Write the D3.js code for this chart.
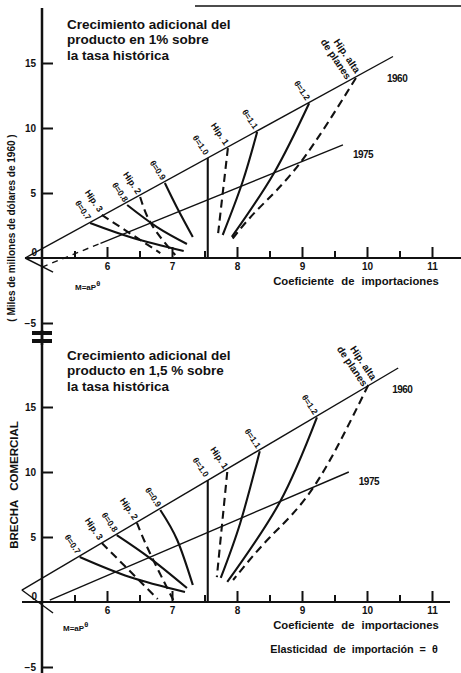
<!DOCTYPE html>
<html>
<head>
<meta charset="utf-8">
<script src="https://cdn.jsdelivr.net/npm/d3@7"></script>
<style>
body{margin:0;background:#fff}
svg text{font-family:"Liberation Sans",Arial,sans-serif;font-weight:bold;fill:#111}
</style>
</head>
<body>
<div class="chart"></div>
<script>
const width = 461, height = 673

// ticks
const xTicks = [6,7,8,9,10,11]
const xMinor = [5.5,6.5,7.5,8.5,9.5,10.5]
const yTicks = [-5,5,10,15]

const thetaNames = ["θ=0.7","θ=0.8","θ=0.9","θ=1.0","θ=1.1","θ=1.2"]
const hipNames = [["Hip. 3"],["Hip. 2"],["Hip. 1"],["Hip. alta","de planes"]]

// panel superior (1%)
const topTitle = ["Crecimiento adicional del","producto en 1% sobre","la tasa histórica"]
const topTheta = [
  [[5.74,2.69],[6.40,1.54],[7.18,0.54]],
  [[6.31,4.08],[6.77,2.38],[7.23,1.08]],
  [[6.89,5.77],[7.08,3.85],[7.32,1.62]],
  [[7.55,7.7],[7.55,0]],
  [[8.31,9.69],[8.08,5.77],[7.78,1.77]],
  [[9.11,11.9],[8.57,6.54],[7.92,1.62]]
]
const topHip = [
  [[5.92,3.31],[6.82,0.38]],
  [[6.51,4.69],[6.69,2.54],[7.05,0.23]],
  [[7.86,8.46],[7.71,1.92]],
  [[9.83,13.85],[8.97,7.31],[8.31,3.69],[7.89,1.23]]
]
const top1960 = [[4.74,0],[10.4,15.5]]
const top1975 = [[5.9,1.13],[9.63,8.7]]
const top1975dash = [[5.0,-0.7],[5.9,1.13]]
const topArm = [[4.74,0],[5.17,-1.08]]

// panel inferior (1,5%)
const botTitle = ["Crecimiento adicional del","producto en 1,5 % sobre","la tasa histórica"]
const botTheta = [
  [[5.58,3.46],[6.35,1.92],[7.2,0.77]],
  [[6.15,5.15],[6.66,3.38],[7.23,1.08]],
  [[6.82,7.08],[7.08,4.77],[7.32,1.31]],
  [[7.55,9.38],[7.55,0]],
  [[8.35,11.6],[8.05,6.08],[7.75,1.85]],
  [[9.23,14.2],[8.66,7.69],[7.85,1.54]]
]
const botHip = [
  [[5.92,4.54],[6.78,0.23]],
  [[6.46,6.08],[6.66,3.77],[7.02,0.15]],
  [[7.85,10.0],[7.69,1.92]],
  [[10.02,16.69],[9.2,9.0],[8.51,5.0],[7.94,1.69]]
]
const bot1960 = [[4.69,0.92],[10.48,18.0]]
const bot1975 = [[5.12,0.15],[9.72,10.0]]
const botArm = [[4.69,0.92],[5.17,-0.85]]

const svg = d3.select('.chart').append('svg')
    .attr('width', width)
    .attr('height', height)

const x = d3.scaleLinear().domain([5, 11]).range([42, 432])

// borde de la pagina escaneada
svg.append('line').attr('x1',195).attr('x2',461).attr('y1',6).attr('y2',6)
    .attr('stroke','#111').attr('stroke-width',1.5)

function panel(p){
    const y = d3.scaleLinear().domain([-5, 15]).range([p.y0 + 65, p.y0 - 195])
    const line = d3.line().x(d=>x(d[0])).y(d=>y(d[1])).curve(d3.curveNatural)
    const g = svg.append('g')

    // eje y
    g.append('line').attr('x1',42).attr('x2',42)
        .attr('y1',p.yTop).attr('y2',p.yBot)
        .attr('stroke','#111').attr('stroke-width',2.5)
    const yAxis = d3.axisLeft(y).tickValues(yTicks).tickSize(-11).tickPadding(6).tickFormat(d3.format('d'))
    const ya = g.append('g').attr('transform','translate(42,0)').call(yAxis)
    ya.select('.domain').remove()
    ya.selectAll('line').attr('stroke','#111').attr('stroke-width',2)
    ya.selectAll('text').style('font-size','10px').attr('fill','#111')
    g.append('text').attr('x',37).attr('y',y(0)-6).attr('dy','0.35em')
        .attr('text-anchor','end').style('font-size','10px').text('0')

    // eje x
    g.append('line').attr('x1',p.xLeft).attr('x2',p.xRight)
        .attr('y1',y(0)).attr('y2',y(0))
        .attr('stroke','#111').attr('stroke-width',2)
    const xa = g.append('g').attr('transform',`translate(0,${y(0)})`)
        .call(d3.axisBottom(x).tickValues(xTicks).tickSize(-11).tickPadding(5).tickFormat(d3.format('d')))
    xa.select('.domain').remove()
    xa.selectAll('line').attr('stroke','#111').attr('stroke-width',2)
    xa.selectAll('text').style('font-size','10px').attr('fill','#111')
    const xm = g.append('g').attr('transform',`translate(0,${y(0)})`)
        .call(d3.axisBottom(x).tickValues(xMinor).tickSize(-7).tickFormat(''))
    xm.select('.domain').remove()
    xm.selectAll('line').attr('stroke','#111').attr('stroke-width',2)

    // rectas 1960 y 1975
    const thin = (data, dash) => g.append('path').datum(data).attr('d', line)
        .attr('fill','none').attr('stroke','#111').attr('stroke-width',1.4)
        .attr('stroke-dasharray', dash || null)
    thin(p.l1960); thin(p.l1975); thin(p.arm)
    if (p.l1975dash) thin(p.l1975dash, '6,5')

    g.append('text').attr('x', x(p.l1960[1][0]) - 6).attr('y', y(p.l1960[1][1]) + 25)
        .style('font-size','10px').style('letter-spacing','-0.5px').text('1960')
    g.append('text').attr('x', x(p.l1975[1][0]) + 10).attr('y', y(p.l1975[1][1]) + 13)
        .style('font-size','10px').style('letter-spacing','-0.5px').text('1975')

    // curvas de elasticidad
    g.selectAll('.theta').data(p.theta).enter().append('path')
        .attr('d', line).attr('fill','none').attr('stroke','#111').attr('stroke-width',2.1)
    g.selectAll('.hip').data(p.hip).enter().append('path')
        .attr('d', line).attr('fill','none').attr('stroke','#111').attr('stroke-width',2.1)
        .attr('stroke-dasharray','8,5')

    // etiquetas giradas
    p.theta.forEach((c,i)=>{
        g.append('text')
            .attr('transform',`translate(${x(c[0][0])-1},${y(c[0][1])-4}) rotate(56)`)
            .attr('text-anchor','end').attr('dy','0.35em')
            .style('font-size','8.5px').text(thetaNames[i])
    })
    p.hip.forEach((c,i)=>{
        const big = hipNames[i].length > 1
        const t = g.append('text')
            .attr('transform',`translate(${x(c[0][0]) + (big ? p.altaDx : -1)},${y(c[0][1]) - (big ? 6 : 4)}) rotate(56)`)
            .attr('text-anchor','end')
            .style('font-size', big ? '10px' : '9px')
        hipNames[i].forEach((s,j)=>{
            t.append('tspan').attr('x',0).attr('dy', j ? '1.1em' : '0.35em').text(s)
        })
    })

    // titulo
    const tt = g.append('text').attr('x',67).attr('y',p.titleY).style('font-size','13.5px')
    p.title.forEach((s,j)=>{
        tt.append('tspan').attr('x',67).attr('dy', j ? '1.13em' : 0).text(s)
    })

    // M = aP^θ
    const m = g.append('text').attr('x',p.mx).attr('y',y(0)+p.my).style('font-size','8px')
    m.append('tspan').text('M=aP')
    m.append('tspan').attr('dy',-4).style('font-size','7.5px').text('θ')

    g.append('text').attr('x',356).attr('y',y(0)+27).attr('text-anchor','middle')
        .style('font-size','11.3px').style('word-spacing','4px').text('Coeficiente de importaciones')
    return y
}

panel({y0:258, yTop:8, yBot:345, xLeft:25, xRight:461, title:topTitle, titleY:29,
    theta:topTheta, hip:topHip, l1960:top1960, l1975:top1975, l1975dash:top1975dash, arm:topArm,
    mx:75, my:32, altaDx:2})
const yb = panel({y0:602, yTop:330, yBot:673, xLeft:22, xRight:450, title:botTitle, titleY:360,
    theta:botTheta, hip:botHip, l1960:bot1960, l1975:bot1975, arm:botArm,
    mx:63, my:29, altaDx:6})

// corte del eje
svg.selectAll('.cut').data([333,341]).enter().append('line')
    .attr('x1',32).attr('x2',52).attr('y1',d=>d).attr('y2',d=>d)
    .attr('stroke','#111').attr('stroke-width',4)

svg.append('text').attr('x',354).attr('y',yb(0)+51).attr('text-anchor','middle')
    .style('font-size','10.8px').style('word-spacing','3px').text('Elasticidad de importación = θ')

// titulos del eje y
svg.append('text').attr('transform','translate(15,228) rotate(-90)').attr('text-anchor','middle')
    .style('font-size','10px').text('( Miles de millones de dólares de 1960 )')
svg.append('text').attr('transform','translate(18,485) rotate(-90)').attr('text-anchor','middle')
    .style('font-size','11.5px').style('word-spacing','6px').text('BRECHA COMERCIAL')
</script>
</body>
</html>
